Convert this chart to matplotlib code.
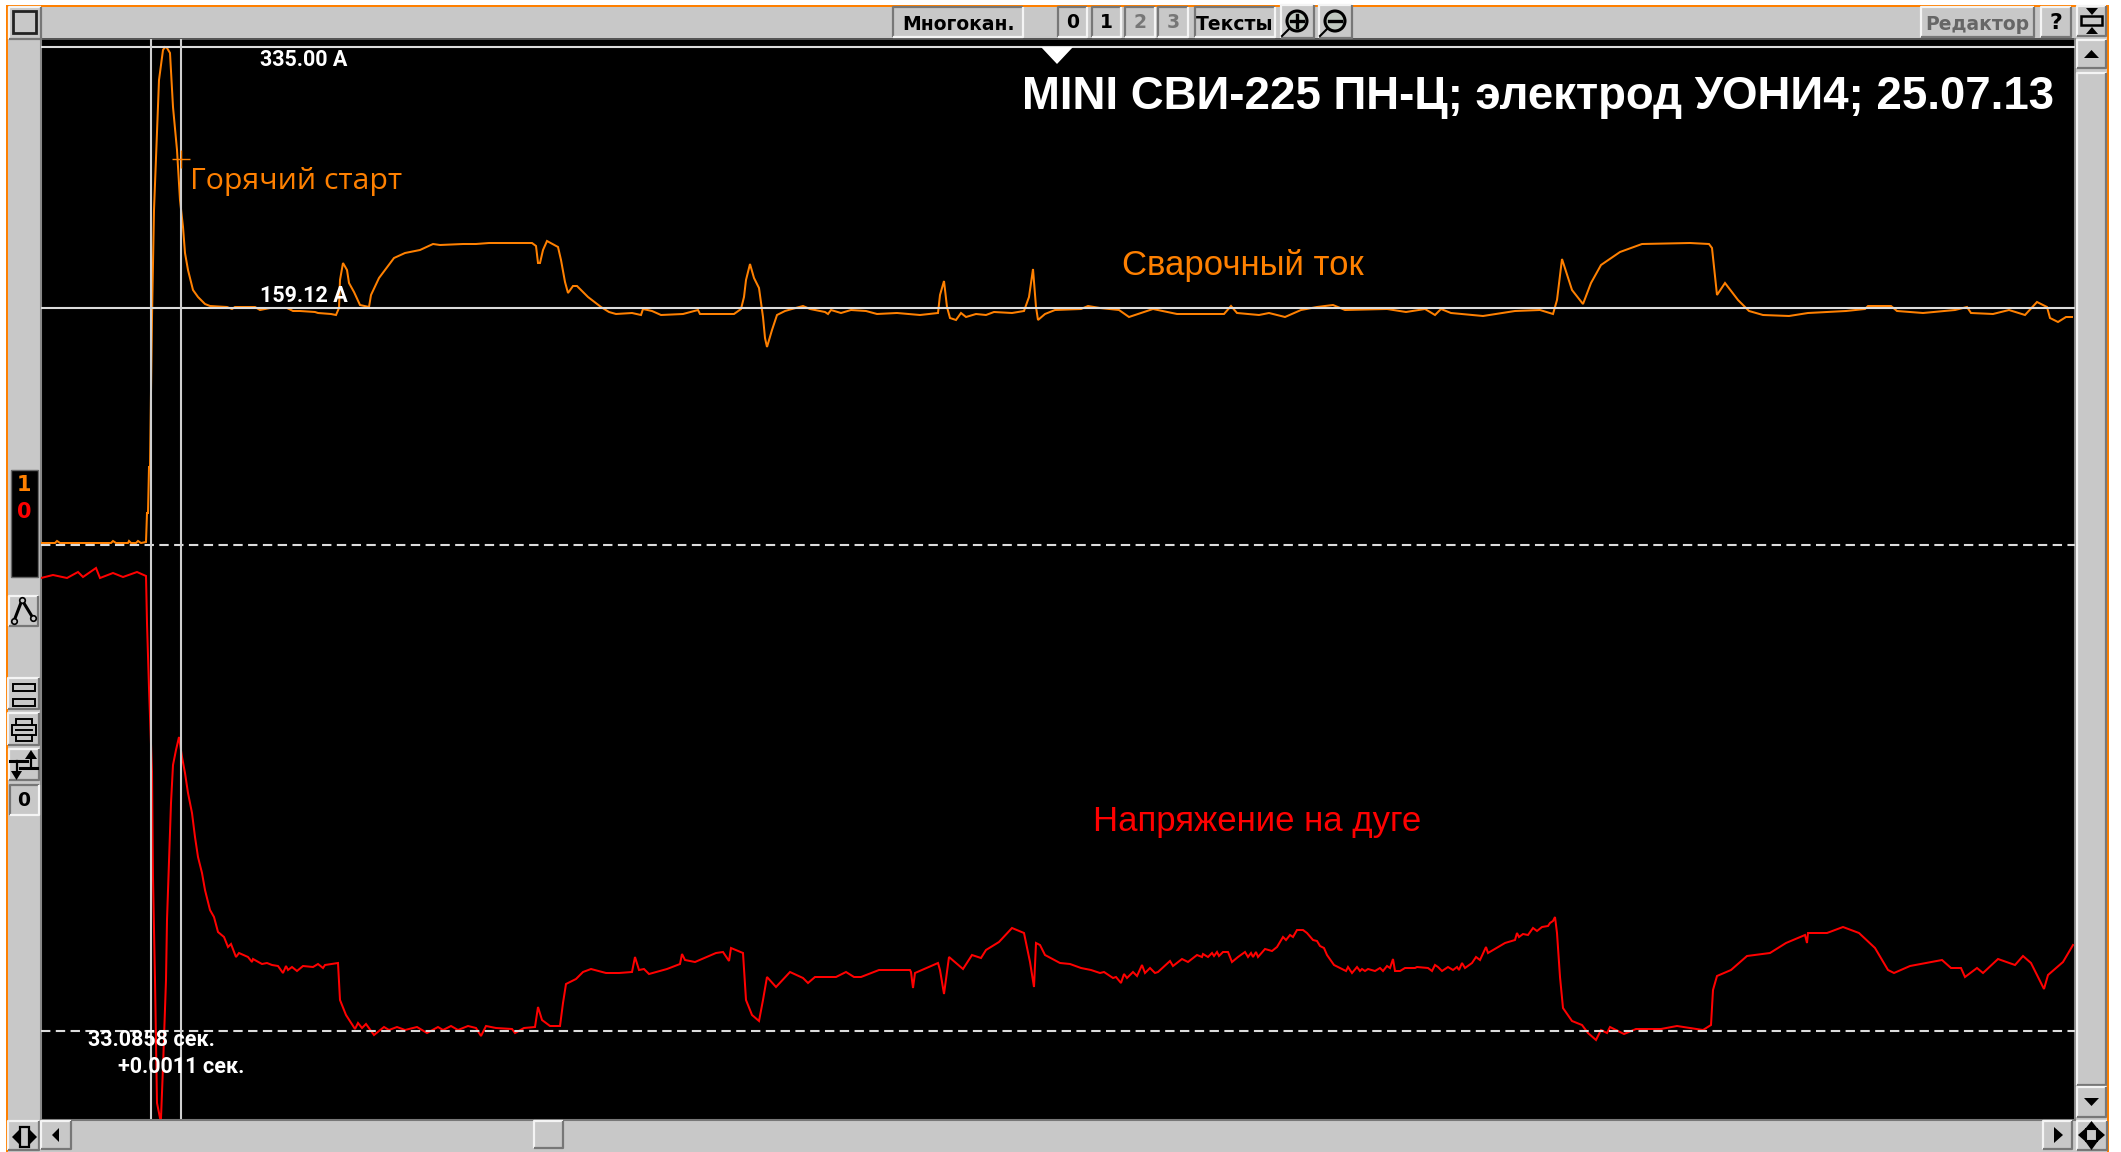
import matplotlib
matplotlib.use("Agg")
import matplotlib.pyplot as plt
from matplotlib.patches import Rectangle, Polygon, Circle

W, H = 2121, 1152

TITLE = "MINI СВИ-225 ПН-Ц; электрод УОНИ4; 25.07.13"
LABEL_START = "Горячий старт"
LABEL_CURRENT = "Сварочный ток"
LABEL_VOLTAGE = "Напряжение на дуге"
LEVEL_HIGH = "335.00 A"
LEVEL_LOW = "159.12 A"
TIME_ABS = "33.0858 сек."
TIME_DELTA = "+0.0011 сек."
A_PER_COUNT = 0.6727
CURSOR_SAMPLES = [151, 181]

current_samples = [41,55,57,60,111,113,116,128,129,131,136,138,141,146,147,148,149,150,152,154,157,159,163,165,167,170,173,177,180,183,185,188,193,198,205,210,227,232,235,255,260,270,287,293,300,315,318,331,336,339,340,343,347,349,354,360,369,371,379,394,405,420,433,440,463,476,489,532,536,538,540,543,547,558,561,565,568,573,577,588,601,609,616,632,641,643,652,661,683,698,700,734,741,744,746,750,754,759,763,765,767,772,777,785,792,803,810,825,828,831,841,851,866,877,897,920,938,940,944,947,950,956,961,966,976,986,994,1012,1024,1029,1033,1036,1038,1045,1055,1081,1088,1100,1119,1129,1141,1153,1177,1224,1231,1237,1259,1269,1285,1301,1317,1333,1345,1387,1406,1425,1435,1441,1451,1483,1515,1540,1553,1557,1562,1572,1583,1591,1601,1620,1642,1690,1709,1712,1717,1725,1738,1749,1763,1789,1808,1846,1865,1868,1891,1897,1923,1955,1967,1971,1993,2009,2025,2037,2047,2050,2058,2066,2072]
current_counts = [2,2,4,2,2,4,2,2,4,2,2,4,2,3,32,32,78,78,228,335,412,465,495,498,497,492,438,395,345,318,292,275,255,248,241,239,238,236,238,238,235,237,237,234,234,233,232,231,230,237,265,282,275,262,253,240,238,250,267,287,292,295,301,300,301,301,302,302,299,282,282,295,304,298,285,263,252,259,259,248,238,233,231,232,230,236,234,230,231,235,231,231,236,248,265,281,267,257,228,207,198,215,230,234,236,239,236,233,231,235,232,235,234,231,232,230,232,250,264,238,227,225,232,228,231,230,233,232,234,248,276,238,225,231,235,236,239,237,235,228,232,236,231,231,239,232,230,232,228,235,238,240,235,236,233,236,230,236,232,229,234,235,231,245,286,255,241,262,280,293,301,302,301,297,250,262,245,234,230,229,232,234,236,239,239,234,232,235,238,232,231,235,230,243,238,227,223,228,228]

voltage_samples = [41,53,67,78,83,96,100,113,123,137,146,147,149,152,153,155,157,160,161,163,166,167,169,171,173,176,179,182,185,188,192,195,198,202,205,210,214,218,224,228,231,236,239,248,252,253,262,267,272,278,283,286,288,292,297,303,313,318,323,325,338,340,346,355,358,362,366,374,384,389,397,405,417,427,438,443,451,458,468,476,481,486,496,512,515,524,535,538,542,550,560,563,566,576,583,591,606,619,632,635,639,644,649,667,680,682,685,695,716,723,729,731,743,746,752,759,763,767,776,790,803,808,815,836,846,854,861,879,910,911,913,915,938,940,944,949,963,972,981,986,999,1012,1024,1030,1034,1036,1040,1045,1060,1070,1081,1091,
1100,1104,1113,1116,1121,1124,1127,1133,1137,1142,1145,1150,1155,1158,1170,1173,1182,1188,1197,1202,1203,1208,1212,1214,1217,1219,1223,1228,1232,1238,1245,1248,1251,1253,1256,1258,1265,1272,1277,1283,1286,1290,1293,1297,1303,1307,1313,1317,1320,1324,1327,1334,1340,1346,1348,1352,1357,1360,1362,1365,1368,1375,1380,1383,1387,1390,1393,1395,1400,1405,1415,1417,1428,1432,1435,1438,1442,1448,1453,1457,1459,1462,1465,1472,1476,1480,1486,1488,1505,1515,1517,1519,1523,1528,1533,1537,1542,1548,1550,1553,1555,1557,1560,1563,
1572,1582,1588,1596,1601,1607,1610,1624,1636,1661,1677,1703,1711,1713,1717,1731,1747,1770,1786,1805,1807,1808,1827,1843,1859,1875,1888,1894,1910,1942,1951,1961,1965,1977,1983,1998,2015,2023,2031,2037,2044,2048,2063,2073]
voltage_counts = [453,456,453,459,454,463,453,458,454,459,455,408,343,259,153,51,-72,-87,-87,-36,51,111,171,228,266,281,294,274,258,238,218,194,174,158,141,121,114,99,94,84,87,74,78,74,69,72,67,68,66,65,58,65,61,64,60,65,64,67,63,66,68,31,16,2,8,3,7,-4,4,1,4,1,4,-2,4,1,5,1,5,3,-5,5,3,2,-2,3,4,24,11,5,5,28,47,52,59,62,58,58,59,74,61,62,57,62,67,77,71,69,78,79,70,83,78,31,16,10,31,54,44,59,53,48,54,54,59,54,54,61,61,59,43,58,68,61,37,74,62,76,73,81,89,103,98,69,44,88,86,76,68,67,63,61,
58,59,53,54,48,57,53,59,55,66,58,63,58,59,70,65,72,69,76,74,77,74,78,75,79,75,79,79,69,74,79,74,78,74,79,74,82,80,84,94,91,96,94,101,101,98,91,90,85,83,76,66,63,60,64,58,64,60,62,60,62,60,63,60,65,63,72,60,60,63,63,64,63,60,66,64,60,64,61,64,61,68,63,68,74,71,84,78,88,91,98,94,97,96,103,100,104,105,108,110,114,98,54,23,
10,6,-2,-9,1,-2,4,-3,2,2,5,1,6,41,55,61,75,78,88,96,88,98,98,104,98,83,61,58,65,71,63,63,54,63,58,72,66,75,68,56,42,56,69,86]

GRAY = "#c8c8c8"
ORANGE = "#ff8000"
RED = "#ff0000"
LINE = "#dcdcdc"
SANS = "Liberation Sans"

fig = plt.figure(figsize=(W / 100, H / 100), dpi=100, facecolor="white")

# window chrome, in screen pixels
ui = fig.add_axes([0, 0, 1, 1], zorder=1)
ui.set_xlim(0, W)
ui.set_ylim(H, 0)
ui.axis("off")


def rect(x0, y0, x1, y1, fc, ec="none", lw=0, z=1):
    ui.add_patch(Rectangle((x0, y0), x1 - x0, y1 - y0, fc=fc, ec=ec, lw=lw, zorder=z))


def button(x0, y0, x1, y1, sunken=False):
    light, dark = ("#f4f4f4", "#777777")
    if sunken:
        light, dark = dark, light
    rect(x0, y0, x1, y1, GRAY, z=2)
    ui.plot([x0, x0, x1], [y1, y0, y0], color=light, lw=1.6, zorder=3, solid_capstyle="butt")
    ui.plot([x0, x1, x1], [y1, y1, y0], color=dark, lw=1.6, zorder=3, solid_capstyle="butt")


def btn_text(x, y, s, color="black", size=13.5):
    ui.text(x, y, s, color=color, fontsize=size, ha="center", va="center",
            family="DejaVu Sans", weight="bold", zorder=5)


rect(6, 5, 2109, H, ORANGE)
rect(8, 7, 2107, H, GRAY)
rect(2075, 0, 2121, 5, "white")
rect(41, 39, 2075, 1119, "black", z=1.5)
rect(41, 38, 2075, 40, "#555555", z=1.6)
ui.plot([2075, 2075], [39, 1119], color="#888888", lw=1.5, zorder=2)
ui.plot([41, 2075], [1119.5, 1119.5], color="#777777", lw=1.5, zorder=2)
ui.plot([40.5, 40.5], [39, 1119], color="#888888", lw=1.5, zorder=2)

# top bar
button(9, 7, 41, 39)
rect(13, 11, 36, 33, GRAY, ec="#222222", lw=2, z=4)
button(893, 7, 1023, 37, sunken=True)
btn_text(958, 24, "Многокан.")
for x0, x1, s, c in [(1058, 1087, "0", "black"), (1092, 1121, "1", "black"),
                     (1125, 1155, "2", "#777777"), (1158, 1188, "3", "#777777")]:
    button(x0, 7, x1, 37, sunken=True)
    btn_text((x0 + x1) / 2, 23, s, color=c)
button(1195, 7, 1275, 37, sunken=True)
btn_text(1235, 24, "Тексты")
for cx, sign in [(1297, "+"), (1335, "-")]:
    button(cx - 16, 5, cx + 17, 38)
    ui.add_patch(Circle((cx, 21), 10, fc="#c0c8c0", ec="black", lw=2.2, zorder=4))
    ui.plot([cx - 6, cx + 6], [21, 21], color="black", lw=2.4, zorder=5)
    if sign == "+":
        ui.plot([cx, cx], [15, 27], color="black", lw=2.4, zorder=5)
    ui.plot([cx - 8, cx - 15], [29, 36], color="black", lw=1.5, zorder=4)
button(1921, 7, 2034, 37)
btn_text(1977, 24, "Редактор", color="#666666")
button(2041, 7, 2071, 37)
btn_text(2056, 23, "?", size=16)
button(2077, 6, 2106, 36)
rect(2081, 16, 2102, 25, GRAY, ec="black", lw=1.8, z=4)
ui.add_patch(Polygon([[2086, 8], [2098, 8], [2092, 15]], fc="black", zorder=4))
ui.add_patch(Polygon([[2086, 34], [2098, 34], [2092, 27]], fc="black", zorder=4))

# right scrollbar
button(2077, 40, 2106, 68)
ui.add_patch(Polygon([[2084, 58], [2099, 58], [2091.5, 50]], fc="black", zorder=4))
button(2077, 73, 2106, 1085)
button(2077, 1087, 2106, 1117)
ui.add_patch(Polygon([[2084, 1098], [2099, 1098], [2091.5, 1106]], fc="black", zorder=4))
button(2077, 1121, 2107, 1150)
rect(2086, 1129, 2097, 1141, GRAY, ec="black", lw=1.5, z=4)
for p in ([[2091.5, 1121], [2085, 1129], [2098, 1129]], [[2091.5, 1150], [2085, 1141], [2098, 1141]],
          [[2078, 1135], [2086, 1128], [2086, 1142]], [[2105, 1135], [2097, 1128], [2097, 1142]]):
    ui.add_patch(Polygon(p, fc="black", zorder=4))

# bottom scrollbar
button(8, 1121, 39, 1150)
rect(20, 1127, 29, 1147, GRAY, ec="black", lw=1.6, z=4)
ui.add_patch(Polygon([[12, 1137], [19, 1130], [19, 1144]], fc="black", zorder=4))
ui.add_patch(Polygon([[37, 1137], [30, 1130], [30, 1144]], fc="black", zorder=4))
button(41, 1121, 71, 1149)
ui.add_patch(Polygon([[52, 1135], [59, 1128], [59, 1142]], fc="black", zorder=4))
button(534, 1121, 563, 1148)
button(2043, 1121, 2072, 1149)
ui.add_patch(Polygon([[2063, 1135], [2054, 1127], [2054, 1143]], fc="black", zorder=4))

# left panel
rect(11, 470, 38, 577, "black", ec="#666666", lw=1, z=2)
btn_text(24, 485, "1", color=ORANGE, size=15)
btn_text(24, 512, "0", color=RED, size=15)
button(9, 596, 38, 626)
ui.plot([14, 22, 33], [621, 600, 618], color="black", lw=2.2, zorder=4)
for px, py in [(14, 621), (22, 600), (33, 618)]:
    ui.plot(px, py, "o", ms=4, mfc=GRAY, mec="black", mew=1.2, zorder=5)
button(8, 678, 39, 709)
rect(13, 684, 35, 691, GRAY, ec="black", lw=1.4, z=4)
rect(13, 699, 35, 706, GRAY, ec="black", lw=1.4, z=4)
button(8, 713, 39, 745)
rect(16, 719, 32, 741, GRAY, ec="black", lw=1.4, z=4)
rect(12, 725, 36, 735, GRAY, ec="black", lw=1.4, z=4)
ui.plot([16, 32], [730, 730], color="black", lw=1.4, zorder=5)
button(9, 749, 39, 780)
ui.plot([10, 27], [761, 761], color="black", lw=2.2, zorder=4)
ui.plot([20, 37], [768, 768], color="black", lw=2.2, zorder=4)
ui.plot([17, 17], [761, 772], color="black", lw=1.6, zorder=4)
ui.plot([31, 31], [756, 768], color="black", lw=1.6, zorder=4)
ui.add_patch(Polygon([[11, 771], [22, 771], [16.5, 780]], fc="black", zorder=4))
ui.add_patch(Polygon([[25, 759], [37, 759], [31, 750]], fc="black", zorder=4))
button(10, 785, 39, 815, sunken=True)
btn_text(24, 801, "0")

# signal area
L, R, T, B = 41, 2075, 39, 1119
rectpos = [L / W, 1 - B / H, (R - L) / W, (B - T) / H]
ZERO_I, ZERO_U = 545, 1031

ax_u = fig.add_axes(rectpos, zorder=2)
ax_u.set_xlim(L, R)
ax_u.set_ylim(ZERO_U - B, ZERO_U - T)
ax_u.axis("off")
ax_i = fig.add_axes(rectpos, zorder=3, sharex=ax_u)
ax_i.set_ylim(ZERO_I - B, ZERO_I - T)
ax_i.axis("off")

ax_i.plot(current_samples, current_counts, color=ORANGE, lw=1.45, solid_joinstyle="miter", zorder=2)
ax_u.plot(voltage_samples, voltage_counts, color=RED, lw=1.45, solid_joinstyle="miter", zorder=2)

ax_i.axhline(335.0 / A_PER_COUNT, color=LINE, lw=1.5, zorder=4)
ax_i.axhline(159.12 / A_PER_COUNT, color=LINE, lw=1.5, zorder=4)
ax_i.axhline(0, color=LINE, lw=1.5, dashes=(4.5, 2.6), zorder=4)
ax_u.axhline(0, color=LINE, lw=1.5, dashes=(4.5, 2.6), zorder=4)
for c in CURSOR_SAMPLES:
    ax_i.axvline(c, color="#cfcfcf", lw=1.5, zorder=4)

# cross mark of the annotation
ax_i.plot([CURSOR_SAMPLES[1]], [ZERO_I - 159], marker="+", ms=13, mew=1.0, color=ORANGE, zorder=5)

ui_top = fig.add_axes([0, 0, 1, 1], zorder=4)
ui_top.set_xlim(0, W)
ui_top.set_ylim(H, 0)
ui_top.axis("off")
ui_top.add_patch(Polygon([[1041, 47], [1073, 47], [1057, 64]], fc="white"))

ui_top.text(1022, 97, TITLE, color="white", fontsize=32.9, weight="bold", family=SANS, va="center", ha="left")
ui_top.text(190, 182, LABEL_START, color=ORANGE, fontsize=21.8, family="Open Sans", va="center", ha="left")
ui_top.text(1122, 265, LABEL_CURRENT, color=ORANGE, fontsize=25, family=SANS, va="center", ha="left")
ui_top.text(1093, 822, LABEL_VOLTAGE, color=RED, fontsize=25, family=SANS, va="center", ha="left")
small = dict(color="white", fontsize=15.5, weight="semibold", family="Roboto", va="center", ha="left")
ui_top.text(260, 60, LEVEL_HIGH, **small)
ui_top.text(260, 296, LEVEL_LOW, **small)
ui_top.text(88, 1040, TIME_ABS, **small)
ui_top.text(118, 1067, TIME_DELTA, **small)

fig.savefig("out.png", dpi=100, facecolor="white")
